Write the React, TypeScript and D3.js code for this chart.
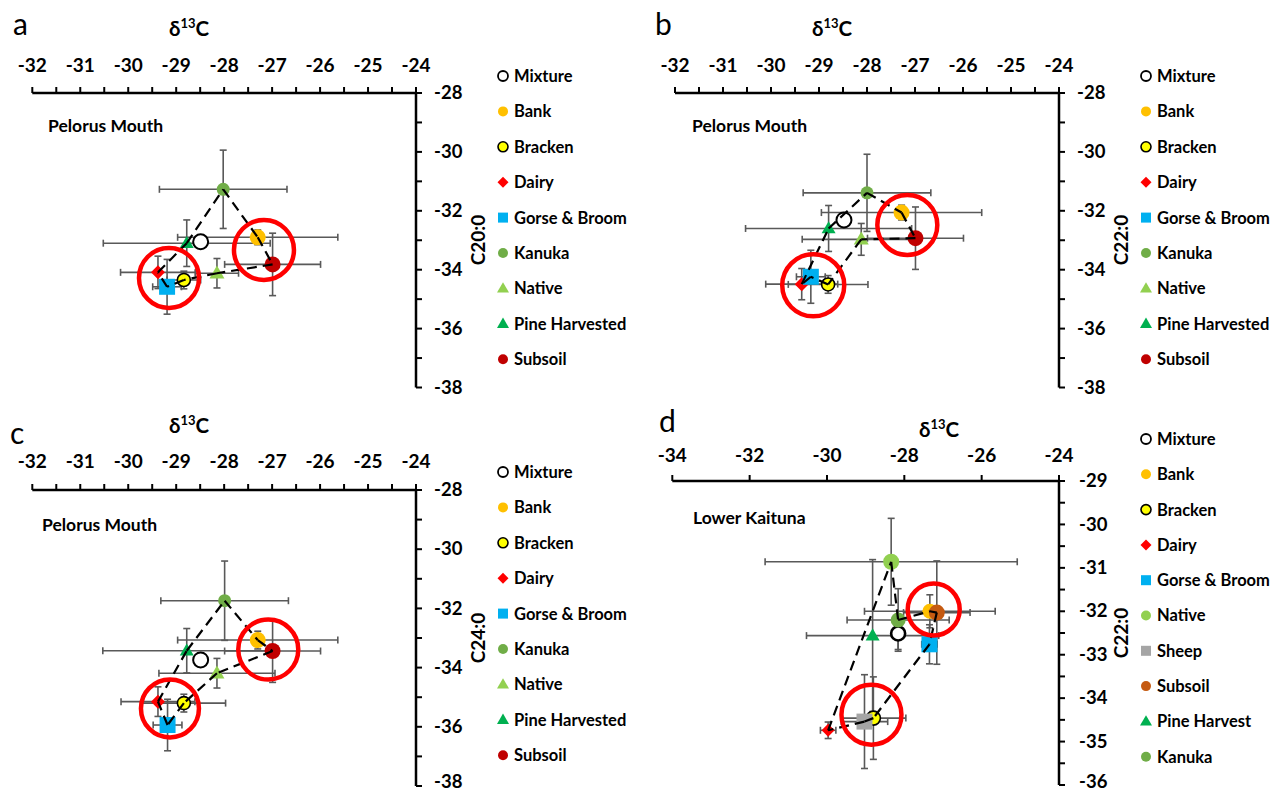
import React from 'react'
import * as d3 from 'd3'

// sources for the Pelorus Mouth panels (a, b, c)
const sourcesPM = ['Mixture', 'Bank', 'Bracken', 'Dairy', 'Gorse & Broom', 'Kanuka', 'Native', 'Pine Harvested', 'Subsoil']
// sources for Lower Kaituna (d)
const sourcesLK = ['Mixture', 'Bank', 'Bracken', 'Dairy', 'Gorse & Broom', 'Native', 'Sheep', 'Subsoil', 'Pine Harvest', 'Kanuka']

// a: C20:0
const c20X = [-28.49, -27.3, -28.84, -29.38, -29.19, -28.02, -28.15, -28.78, -26.99]
const c20Y = [-33.05, -32.9, -34.35, -34.09, -34.58, -31.27, -34.12, -33.1, -33.82]
const c20Ex = [0, 1.67, 0.35, 0.78, 0.3, 1.33, 0.45, 1.74, 1.0]
const c20Ey = [0, 0.25, 0.3, 0.55, 0.93, 1.33, 0.5, 0.79, 1.06]

// b: C22:0
const c22X = [-28.48, -27.28, -28.81, -29.36, -29.17, -28.0, -28.12, -28.8, -26.99]
const c22Y = [-32.31, -32.06, -34.5, -34.49, -34.24, -31.39, -32.97, -32.6, -32.93]
const c22Ex = [0, 1.67, 0.83, 0.75, 0.3, 1.33, 1.23, 1.73, 1.0]
const c22Ey = [0, 0.25, 0.3, 0.53, 0.9, 1.31, 0.54, 0.78, 1.06]

// c: C24:0
const c24X = [-28.49, -27.3, -28.84, -29.38, -29.18, -27.99, -28.15, -28.78, -26.99]
const c24Y = [-33.74, -33.07, -35.2, -35.15, -35.94, -31.74, -34.19, -33.43, -33.44]
const c24Ex = [0, 1.67, 0.87, 0.77, 0.3, 1.33, 1.21, 1.75, 1.0]
const c24Ey = [0, 0.3, 0.3, 0.5, 0.87, 1.34, 0.5, 0.75, 1.06]

// d: C22:0 Lower Kaituna
const lkX = [-28.16, -27.34, -28.8, -29.97, -27.35, -28.34, -29.03, -27.16, -28.82, -28.16]
const lkY = [-32.51, -32.0, -34.46, -34.74, -32.76, -30.86, -34.54, -32.03, -32.56, -32.2]
const lkEx = [0, 1.69, 0.84, 0.2, 0.2, 3.26, 0.6, 0.86, 1.71, 1.32]
const lkEy = [0.37, 0.38, 0.95, 0.19, 0.45, 1.0, 1.08, 1.19, 1.75, 0.72]

const hullPM = ['Kanuka', 'Bank', 'Subsoil', 'Native', 'Bracken', 'Gorse & Broom', 'Dairy', 'Pine Harvested', 'Kanuka']
const hullLK = ['Native', 'Kanuka', 'Bank', 'Subsoil', 'Gorse & Broom', 'Bracken', 'Sheep', 'Dairy', 'Native']

// highlighted sources (ring centres)
const ringsA = [[-29.15, -34.28], [-27.17, -33.33]]
const ringsB = [[-29.12, -34.53], [-27.16, -32.48]]
const ringsC = [[-29.13, -35.38], [-27.08, -33.39]]
const ringsD = [[-28.85, -34.38], [-27.24, -31.96]]

const xTicksPM = [-32, -31, -30, -29, -28, -27, -26, -25, -24]
const yTicksPM = [-28, -30, -32, -34, -36, -38]
const xTicksLK = [-34, -32, -30, -28, -26, -24]
const yTicksLK = [-29, -30, -31, -32, -33, -34, -35, -36]

type Shape = 'circle' | 'square' | 'diamond' | 'triangle'
type St = { shape: Shape; fill: string; stroke?: string; sw?: number; size: number }

const stylesPM: Record<string, St> = {
  'Mixture': { shape: 'circle', fill: '#ffffff', stroke: '#000', sw: 2, size: 15 },
  'Bank': { shape: 'circle', fill: '#FFC000', size: 16 },
  'Bracken': { shape: 'circle', fill: '#FFFF00', stroke: '#000', sw: 1.6, size: 13 },
  'Dairy': { shape: 'diamond', fill: '#FF0000', size: 14 },
  'Gorse & Broom': { shape: 'square', fill: '#00B0F0', size: 16 },
  'Kanuka': { shape: 'circle', fill: '#70AD47', size: 13 },
  'Native': { shape: 'triangle', fill: '#92D050', size: 15 },
  'Pine Harvested': { shape: 'triangle', fill: '#00B050', size: 14 },
  'Subsoil': { shape: 'circle', fill: '#C00000', size: 16 },
}

const stylesLK: Record<string, St> = {
  'Mixture': { shape: 'circle', fill: '#ffffff', stroke: '#000', sw: 2.6, size: 14 },
  'Bank': { shape: 'circle', fill: '#FFC000', size: 15 },
  'Bracken': { shape: 'circle', fill: '#FFFF00', stroke: '#000', sw: 1.6, size: 14 },
  'Dairy': { shape: 'diamond', fill: '#FF0000', size: 13 },
  'Gorse & Broom': { shape: 'square', fill: '#00B0F0', size: 16 },
  'Native': { shape: 'circle', fill: '#92D050', size: 16 },
  'Sheep': { shape: 'square', fill: '#A5A5A5', size: 16 },
  'Subsoil': { shape: 'circle', fill: '#C55A11', size: 16 },
  'Pine Harvest': { shape: 'triangle', fill: '#00B050', size: 14 },
  'Kanuka': { shape: 'circle', fill: '#70AD47', size: 15 },
}

const FONT = 'Lato, "Open Sans", sans-serif'

function Marker({ cx, cy, st, size }: { cx: number; cy: number; st: St; size: number }) {
  const s = size
  const common = { fill: st.fill, stroke: st.stroke || 'none', strokeWidth: st.sw || 0 }
  if (st.shape === 'circle') return <circle cx={cx} cy={cy} r={s / 2} {...common} />
  if (st.shape === 'square') return <rect x={cx - s / 2} y={cy - s / 2} width={s} height={s} {...common} />
  if (st.shape === 'diamond')
    return <polygon points={`${cx},${cy - s / 2} ${cx + s / 2},${cy} ${cx},${cy + s / 2} ${cx - s / 2},${cy}`} {...common} />
  const h = s * 0.87
  return <polygon points={`${cx},${cy - h * 0.6} ${cx + s / 2},${cy + h * 0.4} ${cx - s / 2},${cy + h * 0.4}`} {...common} />
}

const panels = [
  {
    names: sourcesPM, xv: c20X, yv: c20Y, ex: c20Ex, ey: c20Ey, hull: hullPM, rings: ringsA, styles: stylesPM,
    xDomain: [-32, -24], yDomain: [-28, -38], xLabels: xTicksPM, yLabels: yTicksPM, xMinor: 16, yMinor: 10,
    left: 32.3, right: 416, top: 93, bottom: 387.5, ringR: [30, 30],
    letter: { t: 'a', x: 13, y: 35 }, delta: { x: 169, y: 36 }, tickY: 72,
    site: { t: 'Pelorus Mouth', x: 48, y: 132 }, yTitle: { t: 'C20:0', x: 478, y: 240 }, yLabX: 434,
    legX: 503, legY: 76, legStep: 35.4,
  },
  {
    names: sourcesPM, xv: c22X, yv: c22Y, ex: c22Ex, ey: c22Ey, hull: hullPM, rings: ringsB, styles: stylesPM,
    xDomain: [-32, -24], yDomain: [-28, -38], xLabels: xTicksPM, yLabels: yTicksPM, xMinor: 16, yMinor: 10,
    left: 675, right: 1059, top: 93, bottom: 387.5, ringR: [31, 30],
    letter: { t: 'b', x: 655, y: 35 }, delta: { x: 812, y: 36 }, tickY: 72,
    site: { t: 'Pelorus Mouth', x: 692, y: 132 }, yTitle: { t: 'C22:0', x: 1121, y: 240 }, yLabX: 1077,
    legX: 1146, legY: 76, legStep: 35.4,
  },
  {
    names: sourcesPM, xv: c24X, yv: c24Y, ex: c24Ex, ey: c24Ey, hull: hullPM, rings: ringsC, styles: stylesPM,
    xDomain: [-32, -24], yDomain: [-28, -38], xLabels: xTicksPM, yLabels: yTicksPM, xMinor: 16, yMinor: 10,
    left: 32.3, right: 416, top: 490, bottom: 786, ringR: [29, 30],
    letter: { t: 'c', x: 10, y: 444 }, delta: { x: 169, y: 433 }, tickY: 468,
    site: { t: 'Pelorus Mouth', x: 42, y: 531 }, yTitle: { t: 'C24:0', x: 478, y: 638 }, yLabX: 434,
    legX: 503, legY: 472, legStep: 35.4,
  },
  {
    names: sourcesLK, xv: lkX, yv: lkY, ex: lkEx, ey: lkEy, hull: hullLK, rings: ringsD, styles: stylesLK,
    xDomain: [-34, -24], yDomain: [-29, -36], xLabels: xTicksLK, yLabels: yTicksLK, xMinor: 5, yMinor: 14,
    left: 672.3, right: 1059, top: 481, bottom: 785, ringR: [30, 26],
    letter: { t: 'd', x: 659, y: 432 }, delta: { x: 919, y: 437 }, tickY: 462,
    site: { t: 'Lower Kaituna', x: 693, y: 524 }, yTitle: { t: 'C22:0', x: 1121, y: 633 }, yLabX: 1079,
    legX: 1146, legY: 439, legStep: 35.3,
  },
]

function Panel({ p }: { p: (typeof panels)[number] }) {
  const xs = d3.scaleLinear().domain(p.xDomain).range([p.left, p.right])
  const ys = d3.scaleLinear().domain(p.yDomain).range([p.top, p.bottom])
  const idx = (n: string) => p.names.indexOf(n)
  const gray = '#595959'
  const cap = 3.5

  const hullPts = p.hull.map((n) => [xs(p.xv[idx(n)]), ys(p.yv[idx(n)])])
  return (
    <g fontFamily={FONT}>
      <text x={p.letter.x} y={p.letter.y} fontSize={30}>{p.letter.t}</text>
      <text x={p.delta.x} y={p.delta.y} fontSize={20.5} fontWeight="bold">
        δ<tspan fontSize={13} dy={-8}>13</tspan><tspan dy={8}>C</tspan>
      </text>
      <text x={p.site.x} y={p.site.y} fontSize={17.5} fontWeight="bold">{p.site.t}</text>

      {/* x axis on top */}
      <line x1={p.left} x2={p.right} y1={p.top} y2={p.top} stroke="#000" strokeWidth={2.5} />
      {xs.ticks(p.xMinor).map((t) => (
        <line key={'xt' + t} x1={xs(t)} x2={xs(t)} y1={p.top} y2={p.top - 6} stroke="#000" strokeWidth={2} />
      ))}
      {p.xLabels.map((t) => (
        <text key={'xl' + t} x={xs(t)} y={p.tickY} fontSize={19} fontWeight="bold" textAnchor="middle">{String(t)}</text>
      ))}

      {/* y axis on the right */}
      <line x1={p.right} x2={p.right} y1={p.top} y2={p.bottom} stroke="#000" strokeWidth={2.5} />
      {ys.ticks(p.yMinor).map((t) => (
        <line key={'yt' + t} x1={p.right} x2={p.right + 6} y1={ys(t)} y2={ys(t)} stroke="#000" strokeWidth={2} />
      ))}
      {p.yLabels.map((t) => (
        <text key={'yl' + t} x={p.yLabX} y={Math.min(ys(t), 782)} dy="0.33em" fontSize={18.5} fontWeight="bold">{String(t)}</text>
      ))}
      <text transform={`translate(${p.yTitle.x},${p.yTitle.y}) rotate(-90)`} dy="0.35em" fontSize={19}
        fontWeight="bold" textAnchor="middle">{p.yTitle.t}</text>

      {/* error bars */}
      {p.names.map((n, i) => {
        const cx = xs(p.xv[i]), cy = ys(p.yv[i])
        const x1 = xs(p.xv[i] - p.ex[i]), x2 = xs(p.xv[i] + p.ex[i])
        const y1 = ys(p.yv[i] - p.ey[i]), y2 = ys(p.yv[i] + p.ey[i])
        return (
          <g key={'eb' + n} stroke={gray} strokeWidth={1.6}>
            {p.ex[i] > 0 && (
              <>
                <line x1={x1} x2={x2} y1={cy} y2={cy} />
                <line x1={x1} x2={x1} y1={cy - cap} y2={cy + cap} />
                <line x1={x2} x2={x2} y1={cy - cap} y2={cy + cap} />
              </>
            )}
            {p.ey[i] > 0 && (
              <>
                <line x1={cx} x2={cx} y1={y1} y2={y2} />
                <line x1={cx - cap} x2={cx + cap} y1={y1} y2={y1} />
                <line x1={cx - cap} x2={cx + cap} y1={y2} y2={y2} />
              </>
            )}
          </g>
        )
      })}

      {/* markers */}
      {p.names.map((n, i) => (
        <Marker key={'m' + n} cx={xs(p.xv[i])} cy={ys(p.yv[i])} st={p.styles[n]} size={p.styles[n].size} />
      ))}

      {/* mixing polygon */}
      {hullPts.slice(1).map((pt, i) => (
        <line key={'h' + i} x1={hullPts[i][0]} y1={hullPts[i][1]} x2={pt[0]} y2={pt[1]}
          stroke="#000" strokeWidth={2.2} strokeDasharray="10,6" />
      ))}

      {/* highlight rings */}
      {p.rings.map((r, i) => (
        <circle key={'r' + i} cx={xs(r[0])} cy={ys(r[1])} r={p.ringR[i]} fill="none" stroke="#FF0000" strokeWidth={4.5} />
      ))}

      {/* legend */}
      {p.names.map((n, i) => {
        const y = p.legY + i * p.legStep
        const st = p.styles[n]
        const ls = st.shape === 'triangle' ? 12 : st.shape === 'square' ? 10 : st.shape === 'diamond' ? 11 : 10
        return (
          <g key={'lg' + n}>
            <Marker cx={p.legX} cy={y} st={{ ...st, sw: st.sw ? Math.min(st.sw, 1.8) : 0 }} size={ls} />
            <text x={p.legX + 11} y={y} dy="0.36em" fontSize={16.5} fontWeight="bold">{n}</text>
          </g>
        )
      })}
    </g>
  )
}

export default function App() {
  return (
    <svg width={1274} height={793} style={{ position: 'absolute', left: 0, top: 0, background: '#fff' }}>
      <rect width={1274} height={793} fill="#fff" />
      {panels.map((p, i) => (
        <Panel key={i} p={p} />
      ))}
    </svg>
  )
}
